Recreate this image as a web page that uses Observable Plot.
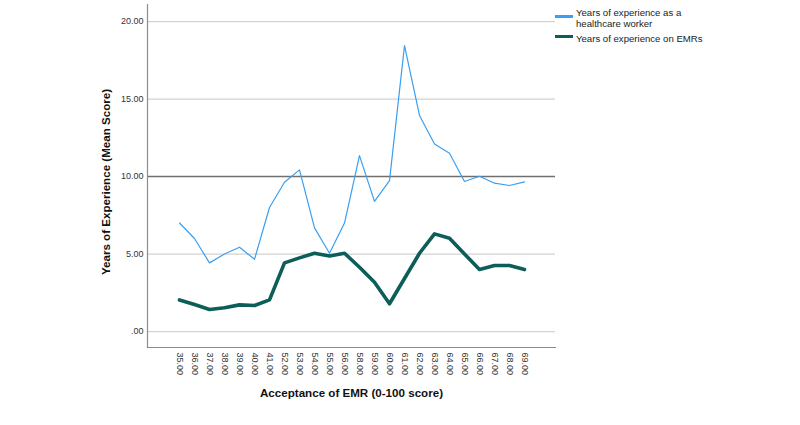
<!DOCTYPE html>
<html>
<head>
<meta charset="utf-8">
<script src="https://cdn.jsdelivr.net/npm/d3@7"></script>
<script src="https://cdn.jsdelivr.net/npm/@observablehq/plot@0.6"></script>
<style>
  body { margin: 0; background: #fff; font-family: "Liberation Sans", Arial, sans-serif; }
  #wrap { position: relative; width: 800px; height: 425px; }
  #legend { position: absolute; left: 0; top: 0; width: 800px; height: 60px; pointer-events: none; font-size: 9.6px; color: #222; }
  #legend .sw { position: absolute; left: 555px; width: 18px; height: 3px; }
  #legend .lb { position: absolute; left: 576px; line-height: 11px; white-space: nowrap; }
</style>
</head>
<body>
<div id="wrap">
  <div id="chart"></div>
  <div id="legend"></div>
</div>
<script>
// Acceptance of EMR score (categories on the x axis)
const scores = [35, 36, 37, 38, 39, 40, 41, 52, 53, 54, 55, 56, 58, 59, 60, 61, 62, 63, 64, 65, 66, 67, 68, 69];

// Mean years of experience as a healthcare worker
const healthcareYears = [7.0, 6.0, 4.43, 5.0, 5.44, 4.66, 8.0, 9.63, 10.43, 6.69, 5.05, 7.0,
  11.35, 8.4, 9.74, 18.45, 13.94, 12.1, 11.5, 9.68, 10.02, 9.57, 9.42, 9.66];

// Mean years of experience on EMRs
const emrYears = [2.04, 1.74, 1.42, 1.53, 1.72, 1.68, 2.04, 4.43, 4.75, 5.05, 4.88, 5.05,
  4.15, 3.18, 1.79, 3.42, 5.05, 6.3, 6.02, 5.0, 4.0, 4.26, 4.26, 4.0];

const seriesNames = ["Years of experience as a healthcare worker", "Years of experience on EMRs"];
const seriesColors = ["#3a9ff0", "#0d5e59"];

const yTicks = [0, 5, 10, 15, 20];
const gridTicks = [0, 5, 15, 20];
const referenceLine = [10];
const yDomain = [-1.03, 21.1];

const xTitle = "Acceptance of EMR (0-100 score)";
const yTitle = "Years of Experience (Mean Score)";

const rowsHealthcare = scores.map((s, i) => ({score: s, value: healthcareYears[i]}));
const rowsEmr = scores.map((s, i) => ({score: s, value: emrYears[i]}));

const font = "'Liberation Sans', Arial, sans-serif";

const chart = Plot.plot({
  width: 800,
  height: 425,
  marginLeft: 147,
  marginRight: 245,
  marginTop: 4,
  marginBottom: 78,
  style: {fontFamily: font, color: "#333", background: "#fff"},
  x: {type: "point", domain: scores, padding: 1.8},
  y: {domain: yDomain},
  marks: [
    Plot.ruleY(gridTicks, {stroke: "#d2d2d2", strokeWidth: 1.2}),
    Plot.ruleY(referenceLine, {stroke: "#6f6f6f", strokeWidth: 1.6}),
    Plot.frame({anchor: "left", stroke: "#8c8c8c", strokeWidth: 1.2}),
    Plot.frame({anchor: "bottom", stroke: "#8c8c8c", strokeWidth: 1.2}),
    Plot.line(rowsHealthcare, {x: "score", y: "value", stroke: seriesColors[0], strokeWidth: 1.2, strokeLinejoin: "round"}),
    Plot.line(rowsEmr, {x: "score", y: "value", stroke: seriesColors[1], strokeWidth: 3.6, strokeLinejoin: "round"}),
    Plot.axisY({
      ticks: yTicks, tickSize: 0, tickPadding: 4, fontSize: 9, label: null,
      tickFormat: d => d === 0 ? ".00" : d3.format(".2f")(d)
    }),
    Plot.axisX({
      tickSize: 0, tickPadding: 5, tickRotate: 90, fontSize: 9, label: null,
      tickFormat: d => d3.format(".2f")(d)
    }),
    Plot.text([yTitle], {frameAnchor: "left", textAnchor: "middle", rotate: -90, dx: -41, dy: 6, fontWeight: "bold", fontSize: 11.6, fill: "#111"}),
    Plot.text([xTitle], {frameAnchor: "bottom", textAnchor: "middle", dy: 49, fontWeight: "bold", fontSize: 11.6, fill: "#111"})
  ]
});
document.getElementById("chart").appendChild(chart);

// Legend
const legend = document.getElementById("legend");
const legendItems = [
  {name: seriesNames[0], lines: ["Years of experience as a", "healthcare worker"], color: seriesColors[0], swatchTop: 14.5, textTop: 7},
  {name: seriesNames[1], lines: ["Years of experience on EMRs"], color: seriesColors[1], swatchTop: 35, textTop: 33}
];
for (const item of legendItems) {
  const sw = document.createElement("div");
  sw.className = "sw";
  sw.style.top = item.swatchTop + "px";
  sw.style.background = item.color;
  legend.appendChild(sw);
  const lb = document.createElement("div");
  lb.className = "lb";
  lb.style.top = item.textTop + "px";
  lb.innerHTML = item.lines.join("<br>");
  legend.appendChild(lb);
}
</script>
</body>
</html>
